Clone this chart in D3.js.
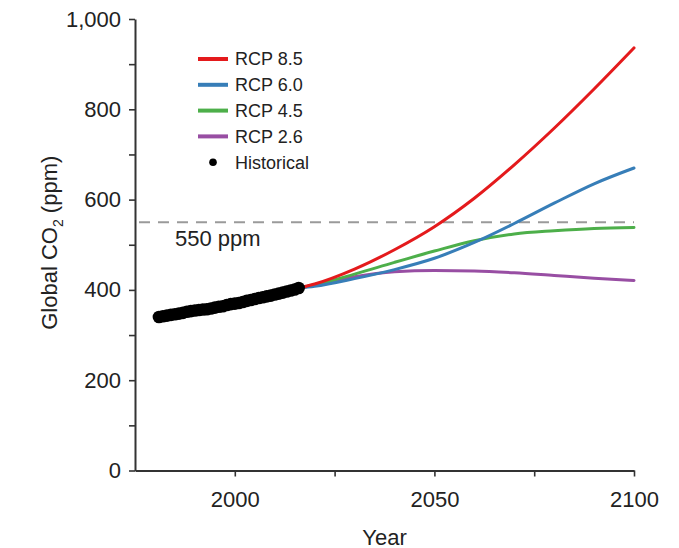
<!DOCTYPE html>
<html>
<head>
<meta charset="utf-8">
<script src="https://cdn.jsdelivr.net/npm/d3@7"></script>
<style>
	body { margin: 0; background: #fff; }
	text { font-family: "Liberation Sans", Arial, sans-serif; fill: #222; }
</style>
</head>
<body>
<svg id="chart" width="679" height="548"></svg>
<script>
// historical annual means (ppm)
var histYears = d3.range(1981, 2017);
var histValues = [340.1, 341.5, 343.1, 344.7, 346.1, 347.4, 349.2, 351.6, 353.1,
	354.4, 355.6, 356.5, 357.1, 358.8, 360.8, 362.6, 363.7, 366.7, 368.4,
	369.6, 371.1, 373.3, 375.8, 377.5, 379.8, 381.9, 383.8, 385.6, 387.4,
	389.9, 391.7, 393.9, 396.5, 398.7, 400.8, 404.2];

// scenario projections
var rcpYears = [2016, 2020, 2030, 2040, 2050, 2060, 2070, 2080, 2090, 2100];
var rcp85 = [404, 413, 446, 489, 540, 603, 677, 758, 845, 936];
var rcp60 = [404, 408, 425, 445, 470, 505, 547, 592, 635, 670];
var rcp45 = [404, 411, 435, 461, 486, 509, 524, 531, 536, 538];
var rcp26 = [404, 411, 429, 440, 443, 442, 438, 432, 426, 421];

var seriesNames = ["RCP 8.5", "RCP 6.0", "RCP 4.5", "RCP 2.6"];
var seriesColours = ["#e41a1c", "#377eb8", "#4daf4a", "#984ea3"];

var xTicks = [2000, 2025, 2050, 2075, 2100];
var xLabelled = [2000, 2050, 2100];
var yTicks = d3.range(0, 1001, 100);
var yLabelled = [0, 200, 400, 600, 800, 1000];
var refLevel = 550;

var svg = d3.select("#chart"),
	margin = {top: 19, right: 45, bottom: 77.5, left: 135},
	width = 679 - margin.left - margin.right,
	height = 548 - margin.top - margin.bottom;

var g = svg.append("g")
	.attr("transform", "translate(" + margin.left + "," + margin.top + ")");

var scale_x = d3.scaleLinear().domain([1975, 2100]).range([0, width]),
	scale_y = d3.scaleLinear().domain([0, 1000]).range([height, 0]);

//reference line
g.append("line")
	.attr("x1", scale_x(1976))
	.attr("x2", scale_x(2100))
	.attr("y1", scale_y(refLevel))
	.attr("y2", scale_y(refLevel))
	.attr("stroke", "#9a9a9a")
	.attr("stroke-width", 2)
	.attr("stroke-dasharray", "11,8");
g.append("text")
	.attr("x", 40)
	.attr("y", scale_y(refLevel) + 24)
	.style("font-size", "22px")
	.text(refLevel + " ppm");

//axes
var axisX = g.append("g")
	.attr("transform", "translate(0," + height + ")")
	.call(d3.axisBottom(scale_x)
		.tickValues(xTicks)
		.tickSize(6)
		.tickSizeOuter(0)
		.tickFormat(function(d) { return xLabelled.indexOf(d) > -1 ? d : ""; }));
var axisY = g.append("g")
	.call(d3.axisLeft(scale_y)
		.tickValues(yTicks)
		.tickSize(6)
		.tickSizeOuter(0)
		.tickFormat(function(d) { return yLabelled.indexOf(d) > -1 ? d3.format(",")(d) : ""; }));

[axisX, axisY].forEach(function(a){
	a.select(".domain").attr("stroke", "#333").attr("stroke-width", 2);
	a.selectAll(".tick line").attr("stroke", "#333").attr("stroke-width", 1.6);
	a.selectAll(".tick text")
		.style("font-size", "22px")
		.attr("fill", "#222");
});
axisX.selectAll(".tick text").attr("dy", "1.15em").attr("y", 11);
axisY.selectAll(".tick text").attr("x", -14);

//axis titles
g.append("text")
	.attr("x", width / 2)
	.attr("y", height + 74)
	.attr("text-anchor", "middle")
	.style("font-size", "22px")
	.text("Year");

var yTitle = g.append("text")
	.attr("transform", "translate(" + (57 - margin.left) + "," + (height / 2 - 2) + ") rotate(-90)")
	.attr("text-anchor", "middle")
	.style("font-size", "22px");
yTitle.append("tspan").text("Global CO");
yTitle.append("tspan").attr("dy", 6).style("font-size", "14px").text("2");
yTitle.append("tspan").attr("dy", -6).text(" (ppm)");

//projection lines
var line = d3.line()
	.x(function(d) { return scale_x(d[0]); })
	.y(function(d) { return scale_y(d[1]); })
	.curve(d3.curveMonotoneX);

var rcpData = [rcp85, rcp60, rcp45, rcp26];
// draw 8.5 last so it sits on top like the original
[3, 2, 1, 0].forEach(function(i){
	g.append("path")
		.datum(rcpYears.map(function(y, j) { return [y, rcpData[i][j]]; }))
		.attr("fill", "none")
		.attr("stroke", seriesColours[i])
		.attr("stroke-width", 3)
		.attr("stroke-linecap", "round")
		.attr("d", line);
});

//historical points
g.selectAll(".data_point")
	.data(histYears.map(function(y, i) { return [y, histValues[i]]; }))
	.enter()
	.append("circle")
		.attr("class", "data_point")
		.attr("cx", function(d) { return scale_x(d[0]); })
		.attr("cy", function(d) { return scale_y(d[1]); })
		.attr("r", 6.3)
		.attr("fill", "#000");

//legend
var legend = svg.append("g").attr("transform", "translate(198,59)");
seriesNames.forEach(function(name, i){
	var row = legend.append("g").attr("transform", "translate(0," + (i * 25.8) + ")");
	row.append("line")
		.attr("x1", 0).attr("x2", 30)
		.attr("y1", 0).attr("y2", 0)
		.attr("stroke", seriesColours[i])
		.attr("stroke-width", 4);
	row.append("text")
		.attr("x", 37)
		.attr("y", 0)
		.attr("dy", "0.35em")
		.style("font-size", "18px")
		.text(name);
});
var histRow = legend.append("g").attr("transform", "translate(0," + (4 * 25.8) + ")");
histRow.append("circle").attr("cx", 15).attr("cy", 0).attr("r", 3.8).attr("fill", "#000");
histRow.append("text")
	.attr("x", 37)
	.attr("y", 0)
	.attr("dy", "0.35em")
	.style("font-size", "18px")
	.text("Historical");
</script>
</body>
</html>
